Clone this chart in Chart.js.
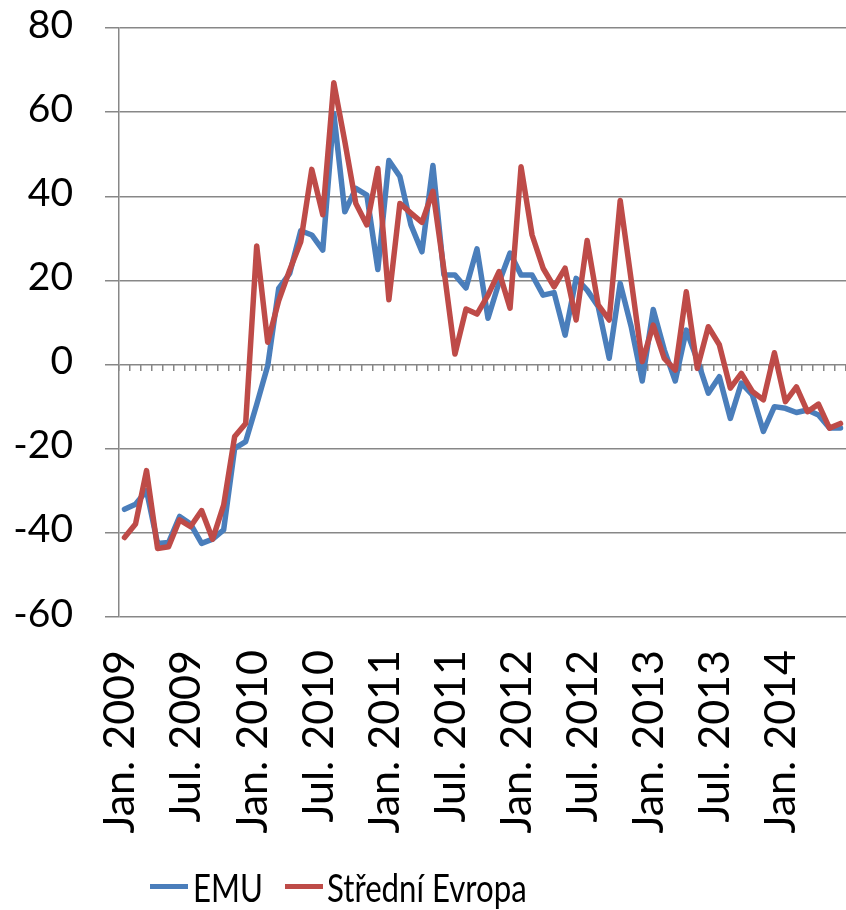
<!DOCTYPE html>
<html>
<head>
<meta charset="utf-8">
<script src="https://cdn.jsdelivr.net/npm/chart.js@4.4.1/dist/chart.umd.min.js"></script>
<style>
    body { margin: 0; background: #fff; }
    #wrap { position: relative; width: 846px; height: 910px; }
    canvas { display: block; }
    .key { position: absolute; top: 884px; width: 38px; height: 5px; }
    .name {
        position: absolute; top: 868px;
        font: 39px/39px Lato, "Open Sans", sans-serif; color: #000;
        white-space: nowrap; transform: scaleX(0.8); transform-origin: 0 0;
    }
</style>
</head>
<body>
<div id="wrap">
    <canvas id="chart" width="846" height="910"></canvas>
</div>
<script>
// -------------------------    Data    -------------------------

var categories = [
    'Jan. 2009', 'Feb. 2009', 'Mar. 2009', 'Apr. 2009', 'May 2009', 'Jun. 2009', 'Jul. 2009', 'Aug. 2009', 'Sep. 2009', 'Oct. 2009', 'Nov. 2009', 'Dec. 2009',
    'Jan. 2010', 'Feb. 2010', 'Mar. 2010', 'Apr. 2010', 'May 2010', 'Jun. 2010', 'Jul. 2010', 'Aug. 2010', 'Sep. 2010', 'Oct. 2010', 'Nov. 2010', 'Dec. 2010',
    'Jan. 2011', 'Feb. 2011', 'Mar. 2011', 'Apr. 2011', 'May 2011', 'Jun. 2011', 'Jul. 2011', 'Aug. 2011', 'Sep. 2011', 'Oct. 2011', 'Nov. 2011', 'Dec. 2011',
    'Jan. 2012', 'Feb. 2012', 'Mar. 2012', 'Apr. 2012', 'May 2012', 'Jun. 2012', 'Jul. 2012', 'Aug. 2012', 'Sep. 2012', 'Oct. 2012', 'Nov. 2012', 'Dec. 2012',
    'Jan. 2013', 'Feb. 2013', 'Mar. 2013', 'Apr. 2013', 'May 2013', 'Jun. 2013', 'Jul. 2013', 'Aug. 2013', 'Sep. 2013', 'Oct. 2013', 'Nov. 2013', 'Dec. 2013',
    'Jan. 2014', 'Feb. 2014', 'Mar. 2014', 'Apr. 2014', 'May 2014', 'Jun. 2014'
];

// only every 6th month gets a label
var tickLabels = [
    'Jan. 2009', 'Jul. 2009', 'Jan. 2010', 'Jul. 2010', 'Jan. 2011', 'Jul. 2011',
    'Jan. 2012', 'Jul. 2012', 'Jan. 2013', 'Jul. 2013', 'Jan. 2014'
];

var seriesNames = ['EMU', 'Střední Evropa'];
var seriesColors = ['#4A7EBB', '#BE4B48'];

var emu = [
    -34.4, -33.2, -30.0, -42.5, -42.3, -36.1, -37.9, -42.5, -41.5, -39.3, -19.9, -18.3,
    -9.5, -0.3, 18.1, 21.7, 31.8, 30.8, 27.2, 59.7, 36.3, 41.9, 40.3, 22.6,
    48.5, 44.7, 33.2, 26.8, 47.3, 21.3, 21.3, 18.2, 27.5, 11.0, 19.5, 26.5,
    21.3, 21.3, 16.5, 17.1, 7.0, 20.5, 17.7, 13.8, 1.5, 19.3, 9.0, -3.9,
    13.1, 3.5, -3.9, 8.2, 1.1, -6.8, -2.9, -12.8, -4.4, -7.2, -15.9, -10.0,
    -10.4, -11.4, -10.8, -12.0, -15.1, -15.1
];

var stredniEvropa = [
    -41.1, -37.9, -25.2, -43.7, -43.3, -36.9, -38.5, -34.7, -41.5, -33.4, -17.1, -14.0,
    28.2, 5.3, 15.2, 22.5, 29.2, 46.4, 35.6, 67.0, 53.0, 38.3, 33.2, 46.6,
    15.4, 38.3, 36.0, 33.8, 41.2, 22.5, 2.5, 13.2, 12.0, 16.5, 22.1, 13.4,
    47.0, 30.8, 22.9, 18.5, 22.9, 10.6, 29.5, 14.2, 10.6, 39.0, 20.1, 0.7,
    9.4, 1.5, -1.3, 17.3, -0.9, 9.0, 4.7, -5.6, -2.1, -6.4, -8.4, 2.8,
    -8.8, -5.3, -11.2, -9.4, -15.1, -14.0
];

var yMin = -60, yMax = 80, yStep = 20;


// -------------------------    Chart Setup    -------------------------

var gridColor = '#878787';

function noPadding(scale) {
    scale.paddingLeft = 0;
    scale.paddingRight = 0;
    scale.paddingTop = 0;
    scale.paddingBottom = 0;
}

var ctx = document.getElementById('chart').getContext('2d');
var chart = new Chart(ctx, {
    type: 'line',
    data: {
        labels: categories,
        datasets: [
            {
                label: seriesNames[0],
                data: emu,
                borderColor: seriesColors[0],
                backgroundColor: seriesColors[0],
                borderWidth: 5.5,
                order: 1,
            },
            {
                label: seriesNames[1],
                data: stredniEvropa,
                borderColor: seriesColors[1],
                backgroundColor: seriesColors[1],
                borderWidth: 5.5,
                order: 0,
            }
        ]
    },
    options: {
        responsive: false,
        animation: false,
        devicePixelRatio: 1,
        layout: { padding: { top: 28, left: 0, right: 0, bottom: 0 } },
        elements: {
            point: { radius: 0 },
            line: { tension: 0, borderJoinStyle: 'round', borderCapStyle: 'round' }
        },
        plugins: {
            legend: { display: false },
            tooltip: { enabled: false }
        },
        scales: {
            x: {
                type: 'category',
                offset: true,
                grid: { display: false, drawTicks: false },
                border: { display: false },
                ticks: {
                    autoSkip: false,
                    minRotation: 90,
                    maxRotation: 90,
                    padding: 33,
                    labelOffset: -4,
                    color: '#000',
                    font: { family: 'Lato', size: 43 },
                    callback: function (value) {
                        var l = this.getLabelForValue(value);
                        return tickLabels.indexOf(l) >= 0 ? l : '';
                    }
                },
                afterFit: function (scale) {
                    scale.height = 293;
                    noPadding(scale);
                }
            },
            // minor tick marks hanging under the zero line
            x2: {
                type: 'category',
                axis: 'x',
                position: { y: 0 },
                offset: true,
                grid: {
                    offset: true,
                    drawOnChartArea: false,
                    drawTicks: true,
                    tickLength: 6,
                    color: gridColor,
                    lineWidth: 1.5
                },
                border: { display: false },
                ticks: { display: false },
                afterFit: noPadding
            },
            y: {
                min: yMin,
                max: yMax,
                grid: {
                    color: gridColor,
                    lineWidth: 1.5,
                    tickLength: 14
                },
                border: { display: true, color: gridColor, width: 1.5 },
                ticks: {
                    stepSize: yStep,
                    padding: 32,
                    labelOffset: -3,
                    color: '#000',
                    font: { family: 'Lato', size: 39 }
                },
                afterFit: function (scale) {
                    scale.width = 119;
                    noPadding(scale);
                }
            }
        }
    }
});


// -------------------------    Legend (html)    -------------------------

var wrap = document.getElementById('wrap');
var keyLeft = [150, 285];
var nameLeft = [193, 327];
seriesNames.forEach(function (name, i) {
    var key = document.createElement('div');
    key.className = 'key';
    key.style.left = keyLeft[i] + 'px';
    key.style.background = seriesColors[i];
    wrap.appendChild(key);

    var txt = document.createElement('span');
    txt.className = 'name';
    txt.style.left = nameLeft[i] + 'px';
    txt.textContent = name;
    wrap.appendChild(txt);
});
</script>
</body>
</html>
